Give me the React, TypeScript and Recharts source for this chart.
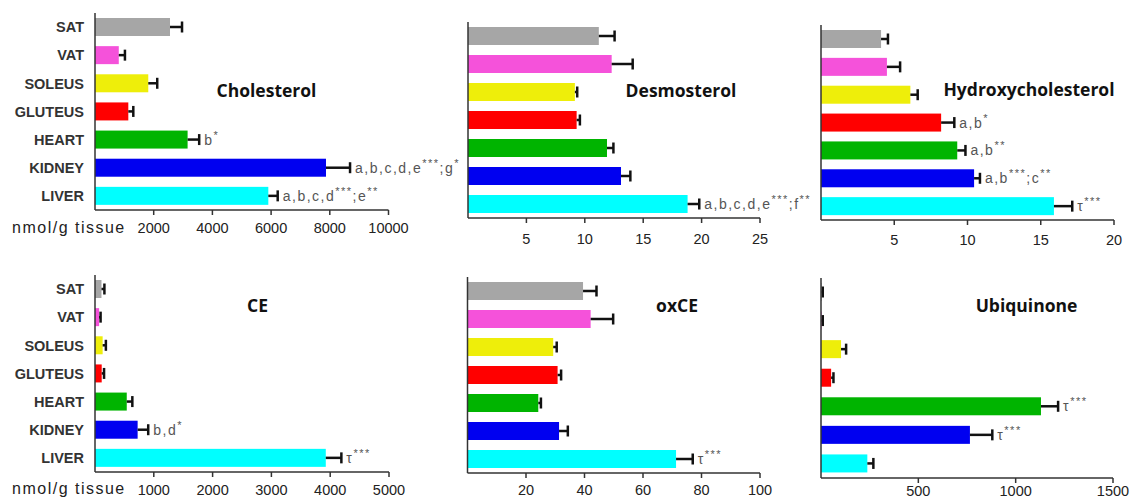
import React from 'react'
import { BarChart, Bar, XAxis, YAxis } from 'recharts'

// tissues, top to bottom
const tissues = ['SAT', 'VAT', 'SOLEUS', 'GLUTEUS', 'HEART', 'KIDNEY', 'LIVER']
const tissueColors = ['#a6a6a6', '#f552da', '#eeee0a', '#ff0000', '#00b400', '#0000f0', '#00ffff']

const cholesterolMean = [2555, 810, 1815, 1135, 3155, 7870, 5905]
const cholesterolSem = [410, 210, 305, 170, 395, 820, 320]
const cholesterolNotes = ['', '', '', '', 'b*', 'a,b,c,d,e***;g*', 'a,b,c,d***;e**']
const cholesterolTicks = [2000, 4000, 6000, 8000, 10000]

const desmosterolMean = [11.2, 12.3, 9.15, 9.3, 11.9, 13.1, 18.8]
const desmosterolSem = [1.35, 1.8, 0.2, 0.28, 0.55, 0.8, 1.0]
const desmosterolNotes = ['', '', '', '', '', '', 'a,b,c,d,e***;f**']
const desmosterolTicks = [5, 10, 15, 20, 25]

const hydroxyMean = [4.1, 4.5, 6.1, 8.2, 9.3, 10.45, 15.9]
const hydroxySem = [0.47, 0.9, 0.5, 0.9, 0.56, 0.4, 1.25]
const hydroxyNotes = ['', '', '', 'a,b*', 'a,b**', 'a,b***;c**', 'τ***']
const hydroxyTicks = [5, 10, 15, 20]

const ceMean = [110, 70, 130, 114, 540, 725, 3925]
const ceSem = [50, 25, 55, 40, 95, 180, 265]
const ceNotes = ['', '', '', '', '', 'b,d*', 'τ***']
const ceTicks = [1000, 2000, 3000, 4000, 5000]

const oxceMean = [39.5, 42.1, 29.3, 30.8, 24.2, 31.3, 71.3]
const oxceSem = [4.6, 7.7, 1.2, 1.2, 0.9, 3.0, 5.7]
const oxceNotes = ['', '', '', '', '', '', 'τ***']
const oxceTicks = [20, 40, 60, 80, 100]

const ubiMean = [3, 3, 103, 52, 1130, 765, 238]
const ubiSem = [6, 6, 26, 12, 88, 115, 31]
const ubiNotes = ['', '', '', '', 'τ***', 'τ***', '']
const ubiTicks = [500, 1000, 1500]

const rows = (mean: number[], sem: number[], notes: string[]) =>
  tissues.map((t, i) => ({ tissue: t, value: mean[i], err: sem[i], note: notes[i] }))

const FONT = '"Liberation Sans", Arial, sans-serif'

function Note({ x, y, text }: { x: number; y: number; text: string }) {
  const parts = text.split(/(\*+)/).filter(p => p !== '')
  let raised = false
  return (
    <text x={x} y={y} dominantBaseline="central" fill="#555" fontSize={14} fontFamily={FONT} letterSpacing={1.5}>
      {parts.map((p, i) => {
        const star = p.startsWith('*')
        let dy = 0
        if (star && !raised) { dy = -5; raised = true }
        else if (!star && raised) { dy = 5; raised = false }
        return (
          <tspan key={i} dy={dy} fontSize={star ? 11 : 14}>{p}</tspan>
        )
      })}
    </text>
  )
}

function BarWithError(props: any) {
  const { x, y, width, height, payload, index } = props
  const cy = y + height / 2
  const k = payload.value > 0 ? width / payload.value : 0
  const x1 = x + width
  const x2 = x1 + payload.err * k
  return (
    <g>
      <rect x={x} y={y} width={width} height={height} fill={tissueColors[index]} />
      {payload.err > 0 && (
        <>
          <line x1={x1} y1={cy} x2={x2} y2={cy} stroke="#111" strokeWidth={2.5} />
          <line x1={x2} y1={cy - 5.5} x2={x2} y2={cy + 5.5} stroke="#111" strokeWidth={2.5} />
        </>
      )}
      {payload.note && <Note x={x2 + 5} y={cy} text={payload.note} />}
    </g>
  )
}

interface PanelProps {
  data: { tissue: string; value: number; err: number; note: string }[]
  ticks: number[]
  box: { left: number; top: number; width: number; height: number }
  plot: { x0: number; x1: number; y0: number; y1: number }
  tickMargin: number
  labels: boolean
}

function Panel({ data, ticks, box, plot, tickMargin, labels }: PanelProps) {
  const xAxisH = 20
  const margin = {
    top: plot.y0 - box.top,
    right: box.left + box.width - plot.x1,
    bottom: box.top + box.height - plot.y1 - xAxisH,
    left: 0,
  }
  return (
    <div style={{ position: 'absolute', left: box.left, top: box.top }}>
      <BarChart width={box.width} height={box.height} data={data} layout="vertical" margin={margin}>
        <XAxis
          type="number"
          domain={[0, ticks[ticks.length - 1]]}
          ticks={ticks}
          interval={0}
          height={xAxisH}
          tickSize={5}
          tickMargin={tickMargin}
          axisLine={{ stroke: '#333', strokeWidth: 1.5 }}
          tickLine={{ stroke: '#333', strokeWidth: 1.5 }}
          tick={{ fill: '#222', fontSize: 14.5, fontFamily: FONT }}
        />
        <YAxis
          type="category"
          dataKey="tissue"
          width={plot.x0 - box.left}
          interval={0}
          tickLine={false}
          tickSize={0}
          tickMargin={11}
          axisLine={{ stroke: '#333', strokeWidth: 1.5 }}
          tick={labels ? { fill: '#333', fontSize: 14.5, fontWeight: 700, fontFamily: FONT } : false}
        />
        <Bar dataKey="value" barSize={18} shape={<BarWithError />} isAnimationActive={false} />
      </BarChart>
    </div>
  )
}

const titleStyle = (cx: number, cy: number): React.CSSProperties => ({
  position: 'absolute',
  left: cx,
  top: cy,
  transform: 'translate(-50%, -50%)',
  fontFamily: '"Open Sans", sans-serif',
  fontWeight: 700,
  fontSize: 17.5,
  color: '#111',
  whiteSpace: 'nowrap',
})

const unitStyle = (cy: number): React.CSSProperties => ({
  position: 'absolute',
  left: 12,
  top: cy,
  transform: 'translateY(-50%)',
  fontFamily: FONT,
  fontSize: 16,
  letterSpacing: 1.5,
  color: '#222',
  whiteSpace: 'nowrap',
})

export default function App() {
  return (
    <div style={{ position: 'absolute', left: 0, top: 0, width: 1132, height: 500, background: '#fff', overflow: 'hidden' }}>
      <Panel data={rows(cholesterolMean, cholesterolSem, cholesterolNotes)} ticks={cholesterolTicks}
        box={{ left: 0, top: 0, width: 480, height: 260 }} plot={{ x0: 95, x1: 388.5, y0: 13, y1: 210 }} tickMargin={8} labels />
      <Panel data={rows(desmosterolMean, desmosterolSem, desmosterolNotes)} ticks={desmosterolTicks}
        box={{ left: 420, top: 0, width: 410, height: 260 }} plot={{ x0: 468, x1: 760, y0: 22, y1: 218 }} tickMargin={11} labels={false} />
      <Panel data={rows(hydroxyMean, hydroxySem, hydroxyNotes)} ticks={hydroxyTicks}
        box={{ left: 790, top: 0, width: 342, height: 260 }} plot={{ x0: 821, x1: 1114, y0: 25, y1: 220 }} tickMargin={10} labels={false} />
      <Panel data={rows(ceMean, ceSem, ceNotes)} ticks={ceTicks}
        box={{ left: 0, top: 250, width: 480, height: 250 }} plot={{ x0: 95, x1: 389, y0: 275, y1: 472 }} tickMargin={8} labels />
      <Panel data={rows(oxceMean, oxceSem, oxceNotes)} ticks={oxceTicks}
        box={{ left: 420, top: 250, width: 380, height: 250 }} plot={{ x0: 467.5, x1: 760, y0: 277, y1: 473 }} tickMargin={7} labels={false} />
      <Panel data={rows(ubiMean, ubiSem, ubiNotes)} ticks={ubiTicks}
        box={{ left: 790, top: 250, width: 342, height: 250 }} plot={{ x0: 821, x1: 1113, y0: 278, y1: 478 }} tickMargin={3} labels={false} />

      <div style={titleStyle(266.5, 90)}>Cholesterol</div>
      <div style={titleStyle(681, 90)}>Desmosterol</div>
      <div style={titleStyle(1029, 89)}>Hydroxycholesterol</div>
      <div style={titleStyle(257.5, 305)}>CE</div>
      <div style={titleStyle(677, 305)}>oxCE</div>
      <div style={titleStyle(1026.5, 305)}>Ubiquinone</div>

      <div style={unitStyle(228)}>nmol/g tissue</div>
      <div style={unitStyle(489)}>nmol/g tissue</div>
    </div>
  )
}
